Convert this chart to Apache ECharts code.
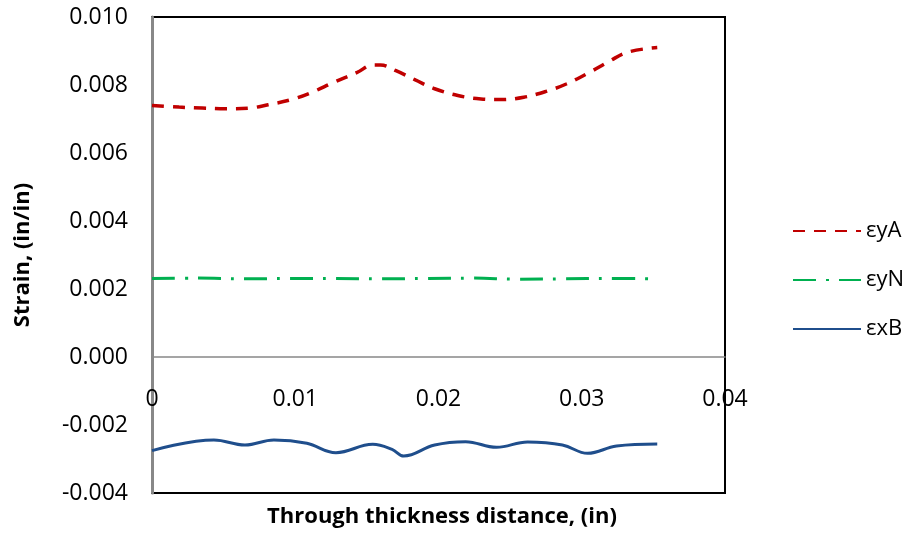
<!DOCTYPE html>
<html><head><meta charset="utf-8">
<script src="https://cdn.jsdelivr.net/npm/echarts@6/dist/echarts.min.js"></script>
<style>html,body{margin:0;padding:0;background:#fff}#c{width:906px;height:533px}</style>
</head><body><div id="c"></div>
<script>
var seriesNames = ['εyA', 'εyN', 'εxB'];
var xTicks = [0, 0.01, 0.02, 0.03, 0.04];
var yTicks = [-0.004, -0.002, 0, 0.002, 0.004, 0.006, 0.008, 0.010];

var redX = [0, 0.00189, 0.00351, 0.00514, 0.00676, 0.00811, 0.00973, 0.01108, 0.01270, 0.01432, 0.01541, 0.01595, 0.01703, 0.01838, 0.01973, 0.02135, 0.02297, 0.02432, 0.02595, 0.02757, 0.02892, 0.03054, 0.03189, 0.03324, 0.03527];
var redY = [0.00740, 0.00735, 0.00732, 0.00730, 0.00732, 0.00742, 0.00757, 0.00777, 0.00808, 0.00837, 0.00859, 0.00859, 0.00842, 0.00815, 0.00789, 0.00769, 0.00759, 0.00757, 0.00764, 0.00782, 0.00803, 0.00837, 0.00869, 0.00897, 0.00910];

var greenX = [0, 0.0032, 0.0064, 0.0096, 0.0128, 0.0160, 0.0192, 0.0224, 0.0256, 0.0288, 0.0320, 0.03527];
var greenY = [0.00231, 0.00232, 0.00230, 0.00231, 0.00231, 0.00230, 0.00231, 0.00232, 0.00229, 0.00230, 0.00231, 0.00230];

var blueX = [0, 0.00432, 0.00649, 0.00851, 0.01081, 0.01284, 0.01541, 0.01676, 0.01757, 0.01973, 0.02189, 0.02405, 0.02622, 0.02865, 0.03041, 0.03243, 0.03527];
var blueY = [-0.002755, -0.002441, -0.002588, -0.002441, -0.002539, -0.002814, -0.002569, -0.002716, -0.002912, -0.002588, -0.002490, -0.002657, -0.002500, -0.002588, -0.002833, -0.002618, -0.002559];

function pairs(xs, ys) { return xs.map(function (x, i) { return [x, ys[i]]; }); }

var FONT = 'Open Sans';
var GRID_TOP = 17, GRID_BOTTOM = 40, H = 533;
var plotH = H - GRID_TOP - GRID_BOTTOM;
var yMin = yTicks[0], yMax = yTicks[yTicks.length - 1];
// shift the x axis (line + labels) up so that it sits at y = 0
var zeroOffset = -plotH * (0 - yMin) / (yMax - yMin);

var chart = echarts.init(document.getElementById('c'), null, {renderer: 'canvas'});
chart.setOption({
  animation: false,
  backgroundColor: '#fff',
  title: {
    text: 'Through thickness distance, (in)',
    left: 437, top: 501, textAlign: 'center',
    textStyle: {fontFamily: FONT, fontWeight: 'bold', fontSize: 22, color: '#000'}
  },
  grid: {left: 152, right: 181, top: GRID_TOP, bottom: GRID_BOTTOM, show: true, borderColor: '#000', borderWidth: 2, backgroundColor: 'transparent'},
  legend: {
    orient: 'vertical', left: 787, top: 215,
    itemWidth: 68, itemHeight: 14, itemGap: 27,
    itemStyle: {opacity: 0},
    textStyle: {fontFamily: FONT, fontSize: 22, lineHeight: 22, color: '#000', padding: [0, 0, 0, 0]},
    data: seriesNames
  },
  xAxis: {
    type: 'value', min: xTicks[0], max: xTicks[xTicks.length - 1], interval: 0.01,
    offset: zeroOffset,
    axisLine: {onZero: false, lineStyle: {color: '#888', width: 1.5}},
    axisTick: {show: false},
    splitLine: {show: false},
    axisLabel: {
      margin: 31, fontFamily: FONT, fontSize: 23, color: '#000',
      formatter: function (v) { return v === 0 ? '0' : v.toFixed(2); }
    }
  },
  yAxis: {
    type: 'value', min: yMin, max: yMax, interval: 0.002,
    name: 'Strain, (in/in)', nameLocation: 'middle', nameGap: 118,
    nameTextStyle: {fontFamily: FONT, fontWeight: 'bold', fontSize: 22, color: '#000'},
    axisLine: {show: true, onZero: false, lineStyle: {color: '#888', width: 3}},
    axisTick: {show: false},
    splitLine: {show: false},
    axisLabel: {
      margin: 24, fontFamily: FONT, fontSize: 23, color: '#000',
      formatter: function (v) { return v.toFixed(3); }
    }
  },
  series: [
    {name: seriesNames[0], type: 'line', data: pairs(redX, redY), smooth: 0.4, showSymbol: false, symbol: 'none',
     lineStyle: {color: '#C00000', width: 3.5, type: [12, 9]}, itemStyle: {color: '#C00000'}},
    {name: seriesNames[1], type: 'line', data: pairs(greenX, greenY), smooth: 0.4, showSymbol: false, symbol: 'none',
     lineStyle: {color: '#00B050', width: 3, type: [23, 10, 3, 10]}, itemStyle: {color: '#00B050'}},
    {name: seriesNames[2], type: 'line', data: pairs(blueX, blueY), smooth: 0.4, showSymbol: false, symbol: 'none',
     lineStyle: {color: '#1F4E8C', width: 3}, itemStyle: {color: '#1F4E8C'}}
  ]
});
</script></body></html>
